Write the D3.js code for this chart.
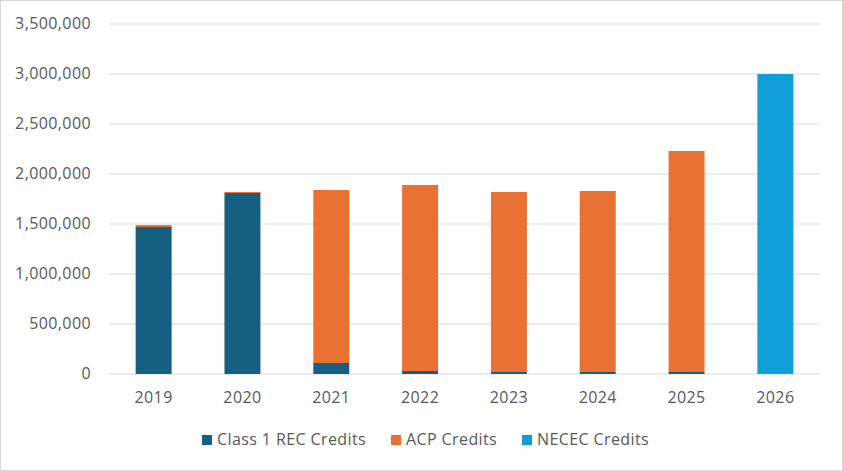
<!DOCTYPE html>
<html>
<head>
<meta charset="utf-8">
<script src="https://d3js.org/d3.v7.min.js"></script>
<style>
  body { margin: 0; background: #fff; }
  text { font-family: "Open Sans", "DejaVu Sans", sans-serif; fill: #595959; font-size: 16px; letter-spacing: 0.4px; }
</style>
</head>
<body>
<div id="chart"></div>
<script>
const years = ["2019", "2020", "2021", "2022", "2023", "2024", "2025", "2026"];
const class1Credits = [1470000, 1810000, 110000, 30000, 20000, 20000, 20000, 0];
const acpCredits = [20000, 10000, 1730000, 1860000, 1800000, 1810000, 2210000, 0];
const nececCredits = [0, 0, 0, 0, 0, 0, 0, 3000000];
const yTicks = [0, 500000, 1000000, 1500000, 2000000, 2500000, 3000000, 3500000];

const seriesNames = ["Class 1 REC Credits", "ACP Credits", "NECEC Credits"];
const colors = ["#156082", "#E97132", "#0F9ED5"];

const width = 843, height = 471;
const margin = { top: 24, right: 23, bottom: 97, left: 109 };

const svg = d3.select("#chart").append("svg")
  .attr("width", width)
  .attr("height", height);

svg.append("rect")
  .attr("x", 0.5).attr("y", 0.5)
  .attr("width", width - 1).attr("height", height - 1)
  .attr("fill", "#fff").attr("stroke", "#d9d9d9");

const rows = years.map((y, i) => ({
  year: y,
  "Class 1 REC Credits": class1Credits[i],
  "ACP Credits": acpCredits[i],
  "NECEC Credits": nececCredits[i]
}));
const stacked = d3.stack().keys(seriesNames)(rows);

const x = d3.scaleBand()
  .domain(years)
  .range([margin.left, width - margin.right])
  .paddingInner(0.595)
  .paddingOuter(0.3);

const y = d3.scaleLinear()
  .domain([0, 3500000])
  .range([height - margin.bottom, margin.top]);

// gridlines
svg.append("g")
  .selectAll("line")
  .data(yTicks)
  .join("line")
  .attr("x1", margin.left)
  .attr("x2", width - margin.right)
  .attr("y1", d => y(d))
  .attr("y2", d => y(d))
  .attr("stroke", "#d9d9d9")
  .attr("stroke-width", 1);

// y labels
svg.append("g")
  .selectAll("text")
  .data(yTicks)
  .join("text")
  .attr("x", 91)
  .attr("y", d => y(d) + 1)
  .attr("text-anchor", "end")
  .attr("dominant-baseline", "middle")
  .text(d => d3.format(",")(d));

// bars
svg.append("g")
  .selectAll("g")
  .data(stacked)
  .join("g")
  .attr("fill", (d, i) => colors[i])
  .selectAll("rect")
  .data(d => d)
  .join("rect")
  .attr("x", d => x(d.data.year))
  .attr("y", d => y(d[1]))
  .attr("width", x.bandwidth())
  .attr("height", d => y(d[0]) - y(d[1]));

// x labels
svg.append("g")
  .selectAll("text")
  .data(years)
  .join("text")
  .attr("x", d => x(d) + x.bandwidth() / 2)
  .attr("y", 399)
  .attr("text-anchor", "middle")
  .attr("dominant-baseline", "middle")
  .text(d => d);

// legend
const legendX = [202, 391, 522];
const legend = svg.append("g")
  .selectAll("g")
  .data(seriesNames)
  .join("g")
  .attr("transform", (d, i) => `translate(${legendX[i]},440)`);
legend.append("rect")
  .attr("x", 0).attr("y", -5)
  .attr("width", 10).attr("height", 10)
  .attr("fill", (d, i) => colors[i]);
legend.append("text")
  .attr("x", 15)
  .attr("y", 1)
  .attr("dominant-baseline", "middle")
  .text(d => d);
</script>
</body>
</html>
